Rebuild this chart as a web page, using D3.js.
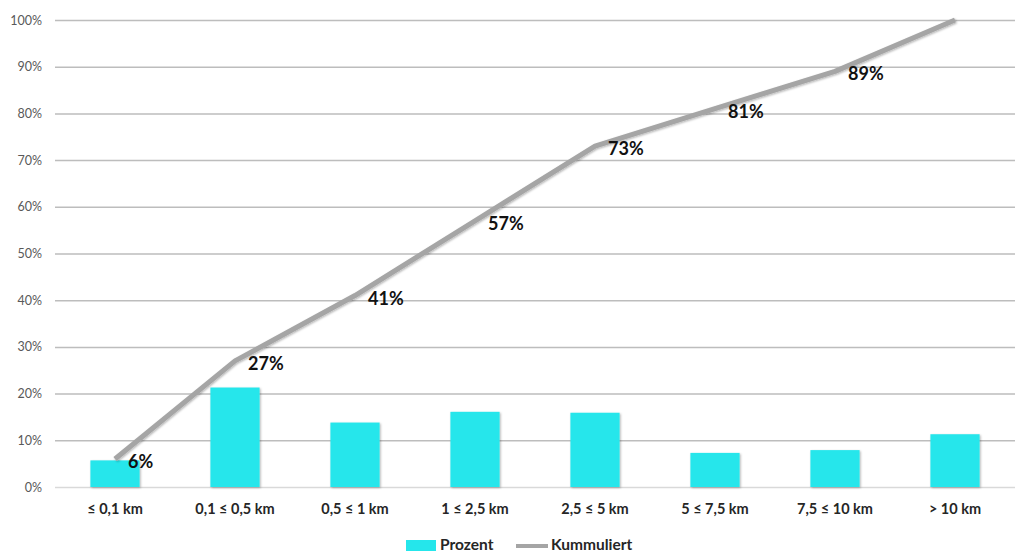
<!DOCTYPE html>
<html><head><meta charset="utf-8">
<script src="https://cdn.jsdelivr.net/npm/d3@7"></script>
<style>body{margin:0;background:#fff}svg{display:block}</style>
</head><body><svg id="c" width="1020" height="554"></svg>
<script>
const categories = ["≤ 0,1 km","0,1 ≤ 0,5 km","0,5 ≤ 1 km","1 ≤ 2,5 km","2,5 ≤ 5 km","5 ≤ 7,5 km","7,5 ≤ 10 km","> 10 km"];
const prozent = [5.7, 21.3, 13.8, 16.1, 15.9, 7.3, 7.9, 11.3];
const kummuliert = [6, 27, 41, 57, 73, 81, 89, 100];
const yTicks = [0,10,20,30,40,50,60,70,80,90,100];
const legendLabels = ["Prozent","Kummuliert"];

const svg = d3.select("#c");
const W=1020,H=554;
const m={left:55,right:5,top:20,bottom:67};
const x=d3.scaleBand().domain(categories).range([m.left,W-m.right]).paddingInner(0.59).paddingOuter(0.295);
const y=d3.scaleLinear().domain([0,100]).range([H-m.bottom,m.top]);

const defs=svg.append("defs");
const f=defs.append("filter").attr("id","sh").attr("x","-20%").attr("y","-20%").attr("width","140%").attr("height","140%");
f.append("feDropShadow").attr("dx",1).attr("dy",1).attr("stdDeviation",1.2).attr("flood-color","#000").attr("flood-opacity",0.3);

// grid
const yAxis=d3.axisLeft(y).tickValues(yTicks).tickFormat(d=>d+"%").tickSize(-(W-m.left-m.right)).tickPadding(13);
const ga=svg.append("g").attr("transform",`translate(${m.left},0)`).call(yAxis);
ga.select(".domain").remove();
ga.selectAll(".tick line").attr("stroke",d=>d===0?"#d9d9d9":"#bdbdbd").attr("stroke-width",1.5);
ga.selectAll(".tick text").attr("fill","#595959").attr("font-family","Lato, 'Open Sans', sans-serif").attr("font-size",12.5);

// bars
svg.append("g").selectAll("rect").data(prozent).join("rect")
 .attr("x",(d,i)=>x(categories[i])).attr("y",d=>y(d))
 .attr("width",x.bandwidth()).attr("height",d=>y(0)-y(d))
 .attr("fill","#25e6eb").attr("filter","url(#sh)");

// x labels
const xAxis=d3.axisBottom(x).tickSize(0).tickPadding(17);
const gx=svg.append("g").attr("transform",`translate(0,${y(0)})`).call(xAxis);
gx.select(".domain").remove();
gx.selectAll(".tick text").attr("fill","#262626").attr("font-family","Lato, 'Open Sans', sans-serif").attr("font-weight","bold").attr("font-size",14.5);

// line
const cx=i=>x(categories[i])+x.bandwidth()/2;
const line=d3.line().x((d,i)=>cx(i)).y(d=>y(d));
svg.append("path").datum(kummuliert).attr("d",line).attr("fill","none")
 .attr("stroke","#a5a5a5").attr("stroke-width",5).attr("stroke-linejoin","round").attr("filter","url(#sh)");

// labels
svg.append("g").selectAll("text").data(kummuliert).join("text")
 .attr("x",(d,i)=>cx(i)+13).attr("y",d=>y(d)+9)
 .attr("font-family","Lato, 'Open Sans', sans-serif").attr("font-weight","bold").attr("font-size",18).attr("fill","#111")
 .text((d,i)=>i===kummuliert.length-1?"":d+"%");

// legend
const lg=svg.append("g").attr("font-family","Lato, 'Open Sans', sans-serif").attr("font-weight","bold").attr("font-size",15.5).attr("fill","#262626");
lg.append("rect").attr("x",406).attr("y",540).attr("width",30).attr("height",11).attr("fill","#25e6eb");
lg.append("text").attr("x",440).attr("y",550).text(legendLabels[0]);
lg.append("line").attr("x1",516).attr("x2",548).attr("y1",546).attr("y2",546).attr("stroke","#a5a5a5").attr("stroke-width",4);
lg.append("text").attr("x",551).attr("y",550).text(legendLabels[1]);
</script></body></html>
